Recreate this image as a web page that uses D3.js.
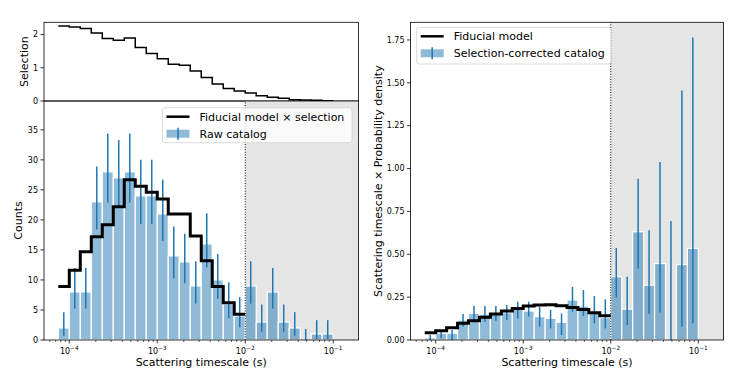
<!DOCTYPE html>
<html>
<head>
<meta charset="utf-8">
<script src="https://cdn.jsdelivr.net/npm/d3@7"></script>
<style>
  body { margin: 0; background: #fff; }
  text { font-family: "DejaVu Sans", sans-serif; fill: #000; }
</style>
</head>
<body>
<div id="chart"></div>
<script>
// bin edges in log10(seconds), 25 filled bins
var binEdges = [-4.125, -4.0, -3.875, -3.75, -3.625, -3.5, -3.375, -3.25, -3.125, -3.0,
                -2.875, -2.75, -2.625, -2.5, -2.375, -2.25, -2.125, -2.0, -1.875, -1.75,
                -1.625, -1.5, -1.375, -1.25, -1.125, -1.0];
var xLimits = [-4.2875, -0.7125];
var cutExp = -2.0;

// top panel: selection
var selection = [2.26, 2.23, 2.18, 2.05, 1.88, 1.83, 1.90, 1.61, 1.43, 1.27, 1.11, 1.08, 0.90,
                 0.71, 0.51, 0.38, 0.30, 0.24, 0.16, 0.11, 0.08, 0.04, 0.03, 0.02, 0.01];

// bottom-left: raw catalog counts and error bounds
var counts   = [2, 8, 8, 23, 28, 27, 28, 24, 24, 21, 14, 13, 9, 16, 10, 6, 4, 9, 3, 8, 3, 2, 0, 1, 1];
var countLo  = [0.71, 5.23, 5.23, 18.4, 22.9, 22.0, 22.9, 19.3, 19.3, 16.5, 10.3, 9.47, 6.06, 12.1,
                6.89, 3.62, 2.09, 6.06, 1.37, 5.23, 1.37, 0.71, 0, 0.17, 0.17];
var countHi  = [4.64, 12.0, 12.0, 28.9, 34.4, 33.3, 34.4, 30.0, 30.0, 26.7, 18.9, 17.7, 13.1, 21.1,
                14.3, 9.58, 7.16, 13.1, 5.92, 12.0, 5.92, 4.64, 1.84, 3.30, 3.30];
var modelSel = [8.9, 11.6, 14.7, 17.2, 19.2, 22.2, 26.7, 25.6, 24.6, 23.5, 21.0, 21.0, 17.3, 13.2,
                8.9, 6.2, 4.3];

// right: selection-corrected catalog
var density = [0.013, 0.039, 0.039, 0.116, 0.155, 0.150, 0.155, 0.159, 0.178, 0.169, 0.136, 0.126,
               0.103, 0.233, 0.198, 0.155, 0.130, 0.369, 0.180, 0.631, 0.320, 0.446, 0, 0.440, 0.534];
var densLo  = [0.0, 0.010, 0.0, 0.078, 0.116, 0.107, 0.112, 0.116, 0.126, 0.136, 0.078, 0.068,
               0.029, 0.165, 0.140, 0.097, 0.068, 0.248, 0.087, 0.417, 0.151, 0.161, 0.0, 0.078, 0.097];
var densHi  = [0.030, 0.058, 0.058, 0.151, 0.198, 0.198, 0.198, 0.204, 0.223, 0.223, 0.194, 0.175,
               0.155, 0.310, 0.291, 0.256, 0.237, 0.537, 0.369, 0.941, 0.640, 1.038, 0.694, 1.455, 1.765];
var fiducial = [0.043, 0.054, 0.072, 0.097, 0.112, 0.132, 0.151, 0.169, 0.184, 0.198, 0.204, 0.206,
                0.200, 0.190, 0.178, 0.159, 0.142];

var countTicks = [0, 5, 10, 15, 20, 25, 30, 35];
var selTicks = [0, 1, 2];
var densTicks = [0, 0.25, 0.5, 0.75, 1.0, 1.25, 1.5, 1.75];
var expTicks = [-4, -3, -2, -1];

var blue = "#1f77b4";
var W = 747, H = 374;

var svg = d3.select("#chart").append("svg")
    .attr("width", W).attr("height", H);

var p10 = function(e) { return Math.pow(10, e); };

// scales
var xL = d3.scaleLog().domain(xLimits.map(p10)).range([44, 358.5]);
var xR = d3.scaleLog().domain(xLimits.map(p10)).range([410.5, 723.5]);
var ySel = d3.scaleLinear().domain([0, 2.37]).range([101, 22.3]);
var yCnt = d3.scaleLinear().domain([0, 39.8]).range([340, 101]);
var yDen = d3.scaleLinear().domain([0, 1.853]).range([340, 22.3]);

var sup = function(n) { return "\u2212" + Math.abs(n); };

function stepLine(x, y, vals, g, width) {
  var pts = vals.map(function(v, i) { return [p10(binEdges[i]), v]; });
  pts.push([p10(binEdges[vals.length]), vals[vals.length - 1]]);
  g.append("path")
    .attr("d", d3.line().curve(d3.curveStepAfter)
      .x(function(d) { return x(d[0]); })
      .y(function(d) { return y(d[1]); })(pts))
    .attr("fill", "none").attr("stroke", "#000")
    .attr("stroke-width", width).attr("stroke-linejoin", "miter");
}

function bars(x, y, vals, lo, hi, g) {
  g.selectAll("rect.bar").data(vals).enter().append("rect")
    .attr("class", "bar")
    .attr("x", function(d, i) { return x(p10(binEdges[i])); })
    .attr("width", function(d, i) { return x(p10(binEdges[i + 1])) - x(p10(binEdges[i])); })
    .attr("y", function(d) { return y(d); })
    .attr("height", function(d) { return y(0) - y(d); })
    .attr("fill", blue).attr("fill-opacity", 0.5)
    .attr("stroke", "#fff").attr("stroke-width", 1.2);
  g.selectAll("line.err").data(vals).enter().append("line")
    .attr("class", "err")
    .attr("x1", function(d, i) { return x(p10((binEdges[i] + binEdges[i + 1]) / 2)); })
    .attr("x2", function(d, i) { return x(p10((binEdges[i] + binEdges[i + 1]) / 2)); })
    .attr("y1", function(d, i) { return y(lo[i]); })
    .attr("y2", function(d, i) { return y(hi[i]); })
    .attr("stroke", blue).attr("stroke-width", 1.5);
}

function shade(x, y0, y1, g) {
  g.append("rect")
    .attr("x", x(p10(cutExp))).attr("width", x.range()[1] - x(p10(cutExp)))
    .attr("y", y1).attr("height", y0 - y1)
    .attr("fill", "#e5e5e5");
}

function cutLine(x, y0, y1, g) {
  g.append("line")
    .attr("x1", x(p10(cutExp))).attr("x2", x(p10(cutExp)))
    .attr("y1", y0).attr("y2", y1)
    .attr("stroke", "#000").attr("stroke-width", 1)
    .attr("stroke-dasharray", "1,1.6");
}

function frame(x, y, g) {
  g.append("rect")
    .attr("x", x.range()[0]).attr("y", y.range()[1])
    .attr("width", x.range()[1] - x.range()[0])
    .attr("height", y.range()[0] - y.range()[1])
    .attr("fill", "none").attr("stroke", "#000").attr("stroke-width", 0.8);
}

function yAxis(y, x0, ticks, fmt, g) {
  ticks.forEach(function(t) {
    g.append("line").attr("x1", x0).attr("x2", x0 - 3.5)
      .attr("y1", y(t)).attr("y2", y(t))
      .attr("stroke", "#000").attr("stroke-width", 0.8);
    g.append("text").attr("x", x0 - 6).attr("y", y(t))
      .attr("dy", "0.35em").attr("text-anchor", "end")
      .style("font-size", "8px").text(fmt(t));
  });
}

function xAxis(x, y0, g) {
  var all = x.ticks();
  all.forEach(function(t) {
    var e = Math.log10(t);
    var major = Math.abs(e - Math.round(e)) < 1e-9;
    g.append("line").attr("x1", x(t)).attr("x2", x(t))
      .attr("y1", y0).attr("y2", y0 + (major ? 3.5 : 2))
      .attr("stroke", "#000").attr("stroke-width", major ? 0.8 : 0.6);
  });
  expTicks.forEach(function(e) {
    var t = g.append("text").attr("x", x(p10(e))).attr("y", y0 + 13.5)
      .attr("text-anchor", "middle").style("font-size", "8px");
    t.append("tspan").text("10");
    t.append("tspan").attr("dy", "-3.5").style("font-size", "5.8px").text(sup(e));
  });
  g.append("text")
    .attr("x", (x.range()[0] + x.range()[1]) / 2).attr("y", y0 + 26)
    .attr("text-anchor", "middle").style("font-size", "11px")
    .text("Scattering timescale (s)");
}

function yLabel(cx, cy, label, g) {
  g.append("text")
    .attr("transform", "translate(" + cx + "," + cy + ") rotate(-90)")
    .attr("text-anchor", "middle").attr("dy", "0.35em")
    .style("font-size", "11px").text(label);
}

function legend(g, bx, by, bw, bh, rows) {
  g.append("rect").attr("x", bx).attr("y", by).attr("width", bw).attr("height", bh)
    .attr("rx", 2.5).attr("fill", "#fff").attr("fill-opacity", 0.8)
    .attr("stroke", "#d0d0d0").attr("stroke-width", 0.8);
  var hx = bx + 4, hw = 23;
  rows.forEach(function(r, i) {
    var cy = by + 9 + i * 17;
    if (r.type === "line") {
      g.append("line").attr("x1", hx).attr("x2", hx + hw)
        .attr("y1", cy).attr("y2", cy)
        .attr("stroke", "#000").attr("stroke-width", 2.5);
    } else {
      g.append("rect").attr("x", hx).attr("y", cy - 4).attr("width", hw).attr("height", 8)
        .attr("fill", blue).attr("fill-opacity", 0.5);
      g.append("line").attr("x1", hx + hw / 2).attr("x2", hx + hw / 2)
        .attr("y1", cy - 6).attr("y2", cy + 6)
        .attr("stroke", blue).attr("stroke-width", 1.5);
    }
    g.append("text").attr("x", hx + hw + 10).attr("y", cy).attr("dy", "0.35em")
      .style("font-size", "11px").text(r.label);
  });
}

// ---- top-left: selection
var gTop = svg.append("g");
stepLine(xL, ySel, selection, gTop, 1.5);
frame(xL, ySel, gTop);
yAxis(ySel, xL.range()[0], selTicks, d3.format("d"), gTop);
yLabel(24, (ySel.range()[0] + ySel.range()[1]) / 2, "Selection", gTop);

// ---- bottom-left: counts
var gCnt = svg.append("g");
shade(xL, yCnt.range()[0], yCnt.range()[1], gCnt);
bars(xL, yCnt, counts, countLo, countHi, gCnt);
stepLine(xL, yCnt, modelSel, gCnt, 3);
cutLine(xL, yCnt.range()[0], yCnt.range()[1], gCnt);
frame(xL, yCnt, gCnt);
yAxis(yCnt, xL.range()[0], countTicks, d3.format("d"), gCnt);
xAxis(xL, yCnt.range()[0], gCnt);
yLabel(18, (yCnt.range()[0] + yCnt.range()[1]) / 2, "Counts", gCnt);
legend(gCnt, 162.5, 107.7, 189.5, 35,
  [{type: "line", label: "Fiducial model \u00d7 selection"},
   {type: "patch", label: "Raw catalog"}]);

// ---- right: corrected density
var gR = svg.append("g");
shade(xR, yDen.range()[0], yDen.range()[1], gR);
bars(xR, yDen, density, densLo, densHi, gR);
stepLine(xR, yDen, fiducial, gR, 3);
cutLine(xR, yDen.range()[0], yDen.range()[1], gR);
frame(xR, yDen, gR);
yAxis(yDen, xR.range()[0], densTicks, d3.format(".2f"), gR);
xAxis(xR, yDen.range()[0], gR);
yLabel(378, (yDen.range()[0] + yDen.range()[1]) / 2,
  "Scattering timescale \u00d7 Probability density", gR);
legend(gR, 416.7, 27.3, 194.3, 36.7,
  [{type: "line", label: "Fiducial model"},
   {type: "patch", label: "Selection-corrected catalog"}]);
</script>
</body>
</html>
